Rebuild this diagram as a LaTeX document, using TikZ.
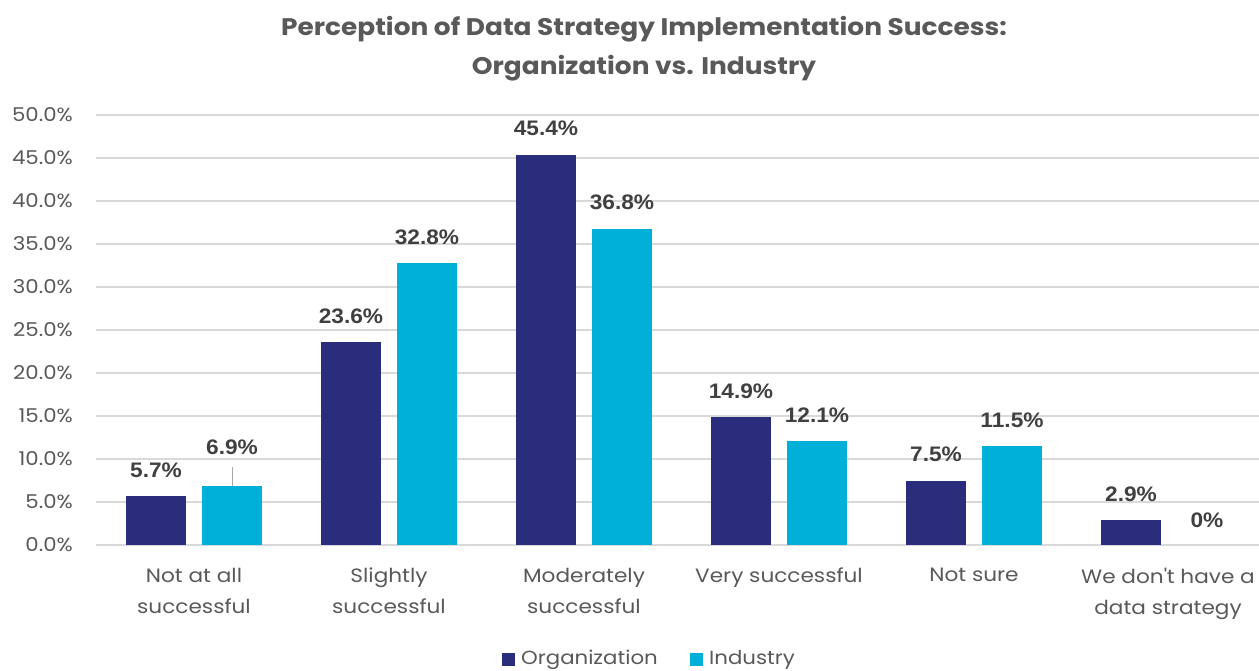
\documentclass[tikz,border=0pt]{standalone}
\usepackage{fontspec}
\setmainfont{Poppins}[FakeStretch=1.12]
\newfontfamily\titlefont{Poppins}[FakeStretch=1.1]
\newfontfamily\lblfont{Liberation Sans}[FakeStretch=1.08]
\definecolor{org}{HTML}{2A2C7C}
\definecolor{ind}{HTML}{00B0D8}
\definecolor{txt}{HTML}{595959}
\definecolor{valc}{HTML}{404040}
\definecolor{gridc}{HTML}{D9D9D9}
\begin{document}
\begin{tikzpicture}[x=1pt,y=-1pt,
  bar/.style={draw=none, minimum width=60pt, inner sep=0pt, outer sep=0pt, anchor=south},
  orgbar/.style={bar, fill=org},
  indbar/.style={bar, fill=ind},
  gridline/.style={draw=gridc, line width=1.5pt},
  ytick/.style={anchor=east, inner sep=0pt, text=txt, font=\fontsize{19}{19}\selectfont},
  val/.style={inner sep=1pt, text=valc, font=\lblfont\bfseries\fontsize{21}{21}\selectfont},
  cat/.style={anchor=north, inner sep=0pt, align=center, text=txt, font=\fontsize{19.3}{31}\selectfont},
  titlest/.style={inner sep=0pt, text=txt, font=\titlefont\bfseries\fontsize{24}{24}\selectfont},
  legsq/.style={minimum size=13pt, inner sep=0pt, draw=none},
  legtxt/.style={anchor=west, inner sep=0pt, text=txt, font=\fontsize{19}{19}\selectfont},
  leader/.style={draw=gray!70, line width=1pt}
]
\useasboundingbox[fill=white] (0,0) rectangle (1259,670);

% title
\node[titlest] (t1) at (644,29) {Perception of Data Strategy Implementation Success:};
\node[titlest] (t2) at (644,68) {Organization vs. Industry};

% grid and y labels
\foreach \v in {0,5,...,50} {
  \draw[gridline] (96,{545-8.6*\v}) -- (1259,{545-8.6*\v});
  \node[ytick] at (73,{545-8.6*\v}) {\v.0\%};
}

% bars
\node[orgbar, minimum height={5.7*8.6pt}]  (o1) at (156,545) {};
\node[indbar, minimum height={6.9*8.6pt}]  (i1) at (232,545) {};
\node[orgbar, minimum height={23.6*8.6pt}] (o2) at (351,545) {};
\node[indbar, minimum height={32.8*8.6pt}] (i2) at (427,545) {};
\node[orgbar, minimum height={45.4*8.6pt}] (o3) at (546,545) {};
\node[indbar, minimum height={36.8*8.6pt}] (i3) at (622,545) {};
\node[orgbar, minimum height={14.9*8.6pt}] (o4) at (741,545) {};
\node[indbar, minimum height={12.1*8.6pt}] (i4) at (817,545) {};
\node[orgbar, minimum height={7.5*8.6pt}]  (o5) at (936,545) {};
\node[indbar, minimum height={11.5*8.6pt}] (i5) at (1012,545) {};
\node[orgbar, minimum height={2.9*8.6pt}]  (o6) at (1131,545) {};
\coordinate (i6) at (1207,545);

% value labels
\node[val] (vo1) at ([yshift=26pt]o1.north) {5.7\%};
\node[val] (vi1) at ([yshift=38pt]i1.north) {6.9\%};
\draw[leader] ([yshift=19pt]i1.north) -- (i1.north);
\node[val] (vo2) at ([yshift=26pt]o2.north) {23.6\%};
\node[val] (vi2) at ([yshift=26pt]i2.north) {32.8\%};
\node[val] (vo3) at ([yshift=26pt]o3.north) {45.4\%};
\node[val] (vi3) at ([yshift=26pt]i3.north) {36.8\%};
\node[val] (vo4) at ([yshift=26pt]o4.north) {14.9\%};
\node[val] (vi4) at ([yshift=26pt]i4.north) {12.1\%};
\node[val] (vo5) at ([yshift=26pt]o5.north) {7.5\%};
\node[val] (vi5) at ([yshift=26pt]i5.north) {11.5\%};
\node[val] (vo6) at ([yshift=26pt]o6.north) {2.9\%};
\node[val] (vi6) at ([yshift=25pt]i6) {0\%};

% category labels
\node[cat] (c1) at (194,568) {Not at all\\successful};
\node[cat] (c2) at (389,568) {Slightly\\successful};
\node[cat] (c3) at (584,568) {Moderately\\successful};
\node[cat] (c4) at (779,568) {Very successful};
\node[cat] (c5) at (974,568) {Not sure};
\node[cat] (c6) at (1168,568) {We don\textquotesingle t have a\\data strategy};

% legend
\node[legsq, fill=org] (lo) at (508.5,659) {};
\node[legtxt] (lot) at (521,660) {Organization};
\node[legsq, fill=ind] (li) at (696.5,659) {};
\node[legtxt] (lit) at (709,660) {Industry};
\end{tikzpicture}
\end{document}
